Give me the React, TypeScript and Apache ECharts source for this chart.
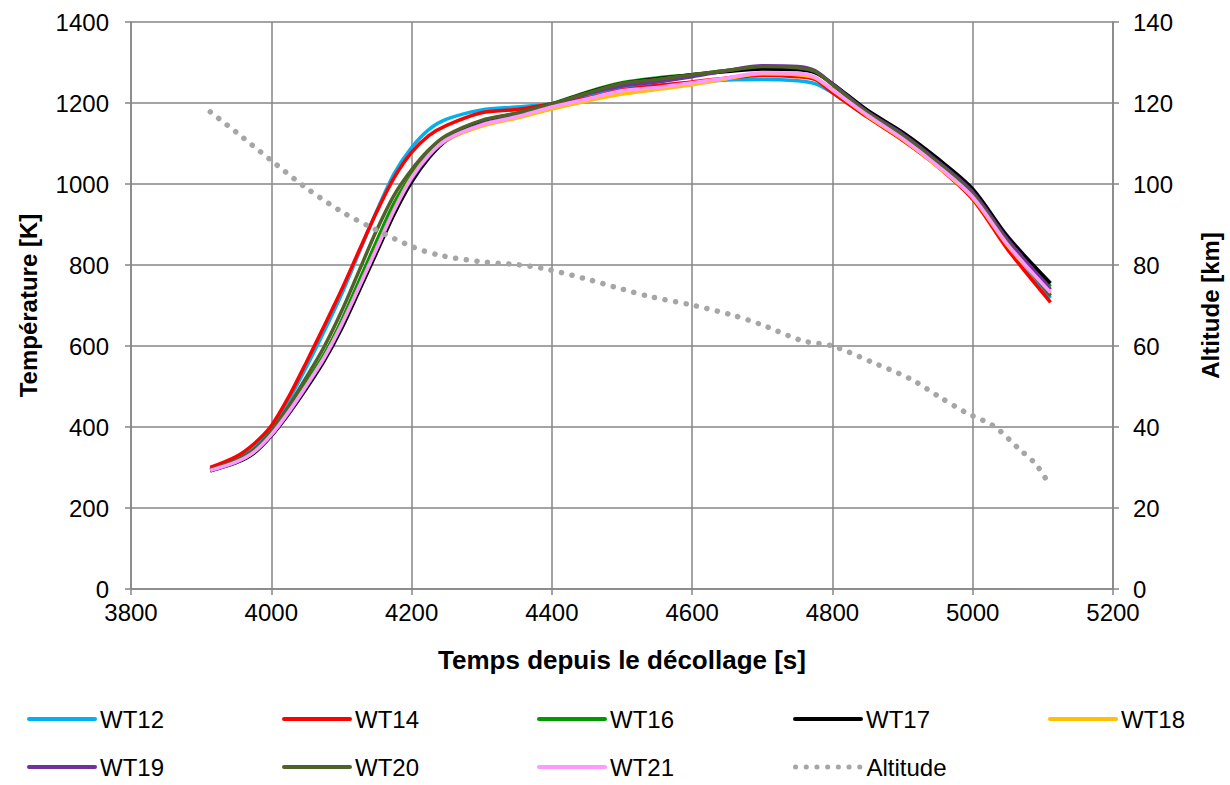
import React, { useEffect, useRef } from "react";
import * as echarts from "echarts";

const timeT = [3913, 3950, 3975, 4000, 4025, 4050, 4075, 4100, 4125, 4150, 4175, 4200, 4225, 4250, 4300, 4350, 4400, 4450, 4500, 4550, 4600, 4650, 4700, 4750, 4775, 4800, 4850, 4900, 4950, 5000, 5050, 5111];

const wt12 = [297, 324, 352, 398, 467, 548, 635, 727, 830, 932, 1025, 1090, 1135, 1160, 1183, 1190, 1198, 1215, 1235, 1243, 1250, 1257, 1258, 1255, 1248, 1225, 1166, 1110, 1045, 965, 843, 718];
const wt14 = [300, 327, 358, 403, 475, 560, 648, 738, 835, 930, 1015, 1078, 1120, 1145, 1176, 1184, 1198, 1212, 1232, 1243, 1252, 1262, 1268, 1265, 1258, 1226, 1165, 1108, 1043, 962, 838, 708];
const wt16 = [293, 314, 338, 384, 443, 510, 578, 662, 760, 858, 952, 1022, 1077, 1115, 1155, 1175, 1198, 1227, 1250, 1262, 1270, 1280, 1287, 1285, 1277, 1247, 1180, 1126, 1060, 984, 866, 747];
const wt17 = [292, 312, 335, 378, 433, 495, 562, 642, 735, 830, 925, 1005, 1065, 1108, 1150, 1172, 1197, 1225, 1248, 1260, 1270, 1278, 1284, 1282, 1275, 1248, 1182, 1128, 1063, 988, 870, 755];
const wt18 = [293, 314, 338, 381, 438, 502, 570, 652, 746, 842, 937, 1016, 1072, 1108, 1143, 1163, 1185, 1205, 1222, 1233, 1245, 1260, 1272, 1270, 1262, 1232, 1168, 1110, 1043, 966, 848, 728];
const wt19 = [292, 313, 338, 380, 435, 500, 568, 650, 745, 840, 935, 1012, 1070, 1110, 1148, 1168, 1195, 1222, 1242, 1252, 1265, 1280, 1292, 1290, 1280, 1247, 1178, 1123, 1056, 980, 862, 740];
const wt20 = [294, 318, 344, 390, 452, 523, 597, 685, 785, 885, 972, 1035, 1085, 1120, 1157, 1175, 1198, 1224, 1248, 1258, 1270, 1280, 1290, 1287, 1278, 1245, 1176, 1120, 1053, 975, 855, 724];
const wt21 = [293, 314, 338, 381, 438, 502, 570, 652, 745, 840, 935, 1015, 1072, 1110, 1146, 1166, 1190, 1210, 1230, 1238, 1250, 1262, 1275, 1274, 1264, 1233, 1170, 1112, 1045, 968, 850, 732];

const altTime = [3913, 3950, 4000, 4050, 4100, 4140, 4200, 4240, 4300, 4350, 4392, 4450, 4495, 4540, 4600, 4658, 4700, 4757, 4800, 4858, 4912, 4952, 4990, 5031, 5066, 5090, 5111];
const altValue = [117.8, 112.8, 105.8, 99.0, 93.2, 89.5, 84.6, 82.4, 80.8, 80.1, 79.0, 76.5, 74.3, 72.2, 70.1, 67.6, 65.2, 61.3, 60.0, 55.9, 51.8, 47.5, 43.6, 40.1, 34.6, 30.8, 25.3];

const seriesNames = ["WT12", "WT14", "WT16", "WT17", "WT18", "WT19", "WT20", "WT21"];
const seriesValues = [wt12, wt14, wt16, wt17, wt18, wt19, wt20, wt21];
const seriesColors = ["#00B0F0", "#FF0000", "#009A00", "#000000", "#FFC000", "#7030A0", "#4F6228", "#FF99FF"];

const xTicks = { min: 3800, max: 5200, interval: 200 };
const yLeftTicks = { min: 0, max: 1400, interval: 200 };
const yRightTicks = { min: 0, max: 140, interval: 20 };

const FONT = "Liberation Sans, Arial, sans-serif";
const GRID_COLOR = "#868686";
const FS = 24;

export default function App() {
  const ref = useRef<HTMLDivElement>(null);
  useEffect(() => {
    if (!ref.current) return;
    const chart = echarts.init(ref.current, null, { renderer: "svg" });
    const series: any[] = seriesNames.map((name, i) => ({
      name,
      type: "line",
      yAxisIndex: 0,
      data: timeT.map((t, k) => [t, seriesValues[i][k]]),
      showSymbol: false,
      symbol: "none",
      smooth: 0.3,
      lineStyle: { color: seriesColors[i], width: 3.5 },
      itemStyle: { color: seriesColors[i] },
    }));
    series.push({
      name: "Altitude",
      type: "line",
      yAxisIndex: 1,
      data: altTime.map((t, k) => [t, altValue[k]]),
      showSymbol: false,
      symbol: "none",
      smooth: 0.3,
      lineStyle: { color: "#A6A6A6", width: 5.5, type: [0.1, 10.6], cap: "round" },
      itemStyle: { color: "#A6A6A6" },
    });

    const allNames = [...seriesNames, "Altitude"];
    const cols = [27, 282, 537, 793, 1048];
    const rows = [707, 755];
    const legends = allNames.map((name, i) => ({
      data: [name],
      left: cols[i % 5],
      top: rows[Math.floor(i / 5)],
      padding: 0,
      itemWidth: 66,
      itemHeight: 14,
      itemStyle: { opacity: 0 },
      lineStyle: { width: name === "Altitude" ? 5 : 4, cap: "round" },
      textStyle: { fontSize: FS, color: "#000", fontFamily: FONT },
    }));

    const axisLineStyle = { lineStyle: { color: GRID_COLOR, width: 1.5 } };
    const fmt = (v: number) => String(v);
    chart.setOption({
      animation: false,
      backgroundColor: "#fff",
      grid: { left: 131, right: 116, top: 22, bottom: 196, containLabel: false },
      legend: legends,
      xAxis: {
        type: "value",
        ...xTicks,
        name: "Temps depuis le décollage [s]",
        nameLocation: "middle",
        nameGap: 58,
        nameTextStyle: { fontSize: 26, fontWeight: "bold", color: "#000", fontFamily: FONT },
        axisLine: { show: true, ...axisLineStyle },
        axisTick: { show: true, inside: false, length: 6, ...axisLineStyle },
        axisLabel: { fontSize: FS, color: "#000", fontFamily: FONT, margin: 11, formatter: fmt },
        splitLine: { show: true, lineStyle: { color: GRID_COLOR, width: 1.5 } },
      },
      yAxis: [
        {
          type: "value",
          ...yLeftTicks,
          name: "Température [K]",
          nameLocation: "middle",
          nameGap: 91,
          nameRotate: 90,
          nameTextStyle: { fontSize: FS, fontWeight: "bold", color: "#000", fontFamily: FONT },
          axisLine: { show: true, ...axisLineStyle },
          axisTick: { show: true, inside: false, length: 6, ...axisLineStyle },
          axisLabel: { fontSize: FS, color: "#000", fontFamily: FONT, margin: 22, formatter: fmt },
          splitLine: { show: true, lineStyle: { color: GRID_COLOR, width: 1.5 } },
        },
        {
          type: "value",
          position: "right",
          ...yRightTicks,
          name: "Altitude [km]",
          nameLocation: "middle",
          nameGap: 85,
          nameRotate: 90,
          nameTextStyle: { fontSize: FS, fontWeight: "bold", color: "#000", fontFamily: FONT },
          axisLine: { show: true, ...axisLineStyle },
          axisTick: { show: true, inside: false, length: 6, ...axisLineStyle },
          axisLabel: { fontSize: FS, color: "#000", fontFamily: FONT, margin: 20, formatter: fmt },
          splitLine: { show: false },
        },
      ],
      series,
    });
    return () => chart.dispose();
  }, []);
  return (
    <div
      ref={ref}
      style={{ position: "absolute", left: 0, top: 0, width: 1230, height: 785 }}
    />
  );
}
